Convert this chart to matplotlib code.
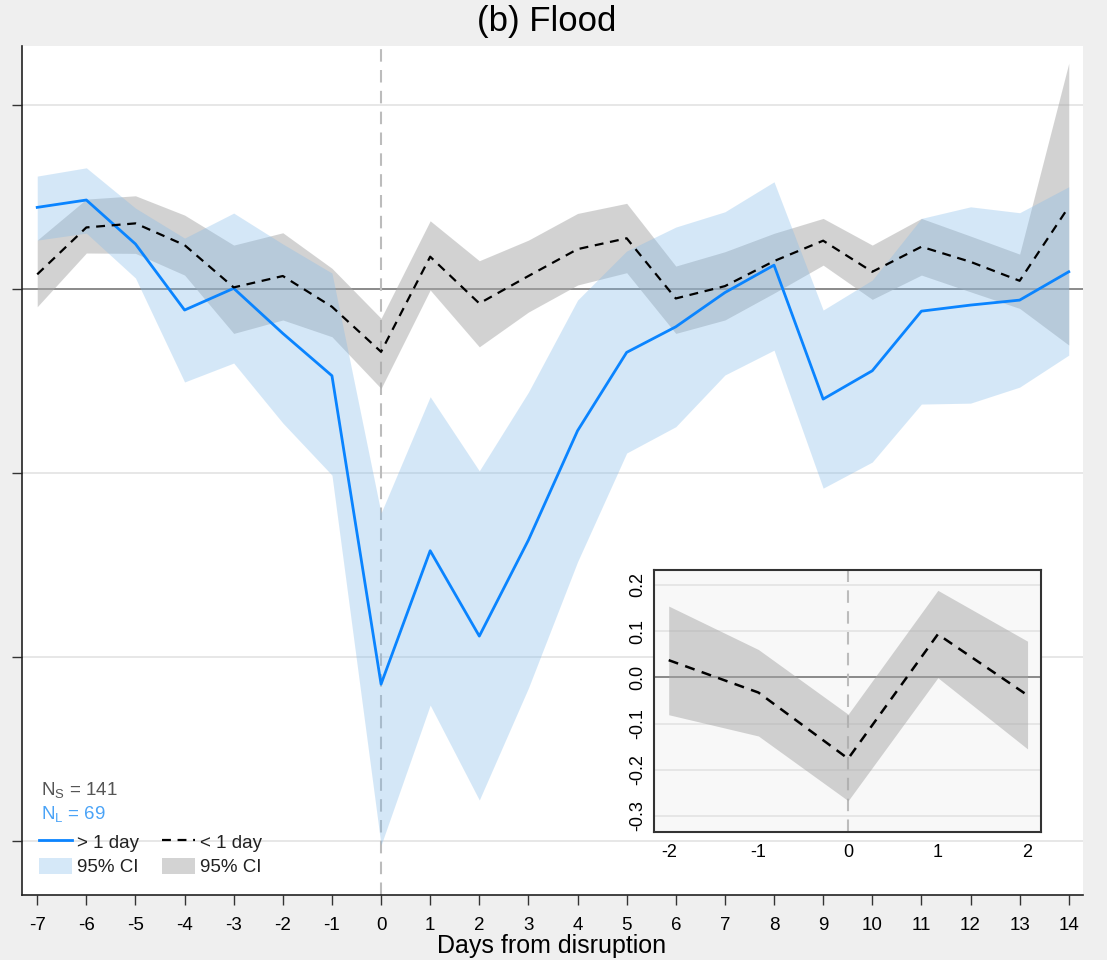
import numpy as np
import matplotlib.pyplot as plt
from matplotlib.lines import Line2D
from matplotlib.patches import Patch

plt.rcParams['font.family'] = ['Liberation Sans', 'DejaVu Sans']
plt.rcParams['mathtext.fontset'] = 'custom'
plt.rcParams['mathtext.rm'] = 'Liberation Sans'

# main panel
days = np.arange(-7, 15)
long_est = [0.0444, 0.0484, 0.0245, -0.0114, 0.0004, -0.0241, -0.0471, -0.2147, -0.1422, -0.1886, -0.1364,
            -0.0770, -0.0344, -0.0205, -0.0019, 0.0130, -0.0598, -0.0444, -0.0120, -0.0087, -0.0060, 0.0094]
long_hi = [0.0614, 0.0659, 0.0440, 0.0277, 0.0413, 0.0245, 0.0087, -0.1217, -0.0585, -0.0988, -0.0560,
           -0.0060, 0.0207, 0.0337, 0.0420, 0.0583, -0.0114, 0.0049, 0.0384, 0.0447, 0.0415, 0.0556]
long_lo = [0.0266, 0.0304, 0.0060, -0.0505, -0.0402, -0.0728, -0.1011, -0.3022, -0.2261, -0.2777, -0.2168,
           -0.1482, -0.0891, -0.0748, -0.0467, -0.0332, -0.1082, -0.0940, -0.0625, -0.0620, -0.0533, -0.0359]
short_est = [0.0080, 0.0335, 0.0357, 0.0239, 0.0009, 0.0071, -0.0096, -0.0341, 0.0176, -0.0078, 0.0071,
             0.0217, 0.0276, -0.0051, 0.0016, 0.0152, 0.0263, 0.0094, 0.0230, 0.0148, 0.0045, 0.0447]
short_hi = [0.0266, 0.0489, 0.0507, 0.0402, 0.0239, 0.0306, 0.0113, -0.0159, 0.0371, 0.0154, 0.0266,
            0.0411, 0.0466, 0.0125, 0.0203, 0.0303, 0.0384, 0.0239, 0.0384, 0.0288, 0.0190, 0.1227]
short_lo = [-0.0096, 0.0196, 0.0194, 0.0076, -0.0241, -0.0168, -0.0259, -0.0540, -0.0005, -0.0314, -0.0125,
            0.0022, 0.0089, -0.0241, -0.0168, -0.0022, 0.0130, -0.0056, 0.0076, -0.0015, -0.0105, -0.0304]
yticks = [0.1, 0.0, -0.1, -0.2, -0.3]

# inset
days_in = [-2, -1, 0, 1, 2]
in_est = [0.037, -0.033, -0.176, 0.093, -0.039]
in_hi = [0.154, 0.060, -0.080, 0.188, 0.078]
in_lo = [-0.081, -0.127, -0.267, -0.001, -0.155]
in_yticks = [0.2, 0.1, 0.0, -0.1, -0.2, -0.3]

blue = '#0a84ff'
blue_fill = (131/255, 187/255, 234/255)
gray_fill = (167/255, 167/255, 167/255)

fig = plt.figure(figsize=(11.07, 9.6), dpi=100)
fig.patch.set_facecolor('#efefef')
ax = fig.add_axes([0.01987, 0.06771, 0.95845, 0.88437])
ax.set_facecolor('white')

for yv in yticks:
    if yv != 0:
        ax.axhline(yv, color='#e3e3e3', lw=1.2, zorder=0)
ax.axhline(0, color='#8a8a8a', lw=1.4, zorder=1)
ax.axvline(0, color='#bcbcbc', lw=1.5, ls=(0, (6, 4)), zorder=1)

ax.fill_between(days, short_lo, short_hi, color=gray_fill, alpha=0.5, lw=0, zorder=2)
ax.fill_between(days, long_lo, long_hi, color=blue_fill, alpha=0.34, lw=0, zorder=3)
ax.plot(days, long_est, color=blue, lw=2.0, zorder=4)
ax.plot(days, short_est, color='black', lw=1.6, ls=(0, (4, 3)), zorder=5)

ax.set_xlim(-7.31, 14.29)
ax.set_ylim(-0.3293, 0.1321)
ax.set_xticks(days)
ax.set_xticklabels([str(d) for d in days])
ax.set_yticks(yticks)
ax.set_yticklabels([])
ax.tick_params(axis='both', direction='out', length=7, width=1.0, color='#333333')
ax.tick_params(axis='x', labelsize=13.5, pad=9)
for s in ['top', 'right']:
    ax.spines[s].set_visible(False)
for s in ['left', 'bottom']:
    ax.spines[s].set_color('#222222')
    ax.spines[s].set_linewidth(1.2)

fig.text(547 / 1107, 1 - 22 / 960, '(b) Flood', ha='center', va='center', fontsize=25)
fig.text(552 / 1107, 7 / 960, 'Days from disruption', ha='center', va='baseline', fontsize=18)

ax.text(0.018, 0.1228, r'N$_{\mathrm{S}}$ = 141', transform=ax.transAxes, fontsize=13.5,
        color='#555555', va='center', ha='left')
ax.text(0.018, 0.0942, r'N$_{\mathrm{L}}$ = 69', transform=ax.transAxes, fontsize=13.5,
        color='#4aa3f7', va='center', ha='left')

h = [Line2D([], [], color=blue, lw=2.0),
     Patch(facecolor='#d5e8f8', edgecolor='none'),
     Line2D([], [], color='black', lw=1.6, ls=(0, (4, 3))),
     Patch(facecolor='#d3d3d3', edgecolor='none')]
labels = ['> 1 day', '95% CI', '< 1 day', '95% CI']
leg = ax.legend(h, labels, ncol=2, loc='lower left', bbox_to_anchor=(0.016, 0.022), frameon=False,
                fontsize=13.5, handlelength=1.76, handleheight=1.0, handletextpad=0.27,
                columnspacing=1.2, labelspacing=0.3, borderpad=0, borderaxespad=0)
for t in leg.get_texts():
    t.set_color('#222222')

# inset
axi = fig.add_axes([0.5911, 0.13365, 0.3493, 0.2726])
axi.set_facecolor('#f8f8f8')
for yv in in_yticks:
    if yv != 0:
        axi.axhline(yv, color='#e3e3e3', lw=1.2, zorder=0)
axi.axhline(0, color='#8a8a8a', lw=1.4, zorder=1)
axi.axvline(0, color='#bcbcbc', lw=1.5, ls=(0, (6, 4)), zorder=1)
axi.fill_between(days_in, in_lo, in_hi, color=gray_fill, alpha=0.5, lw=0, zorder=2)
axi.plot(days_in, in_est, color='black', lw=1.8, ls=(0, (4, 3)), zorder=5)
axi.set_xlim(-2.16, 2.15)
axi.set_ylim(-0.334, 0.232)
axi.set_xticks(days_in)
axi.set_xticklabels([str(d) for d in days_in])
axi.set_yticks(in_yticks)
axi.set_yticklabels(['%.1f' % v for v in in_yticks], rotation=90, va='center')
axi.tick_params(axis='both', length=0, labelsize=13)
axi.tick_params(axis='x', pad=9)
axi.tick_params(axis='y', pad=6)
for s in axi.spines.values():
    s.set_color('#333333')
    s.set_linewidth(1.5)

fig.savefig('out.png', dpi=100, facecolor=fig.get_facecolor())
